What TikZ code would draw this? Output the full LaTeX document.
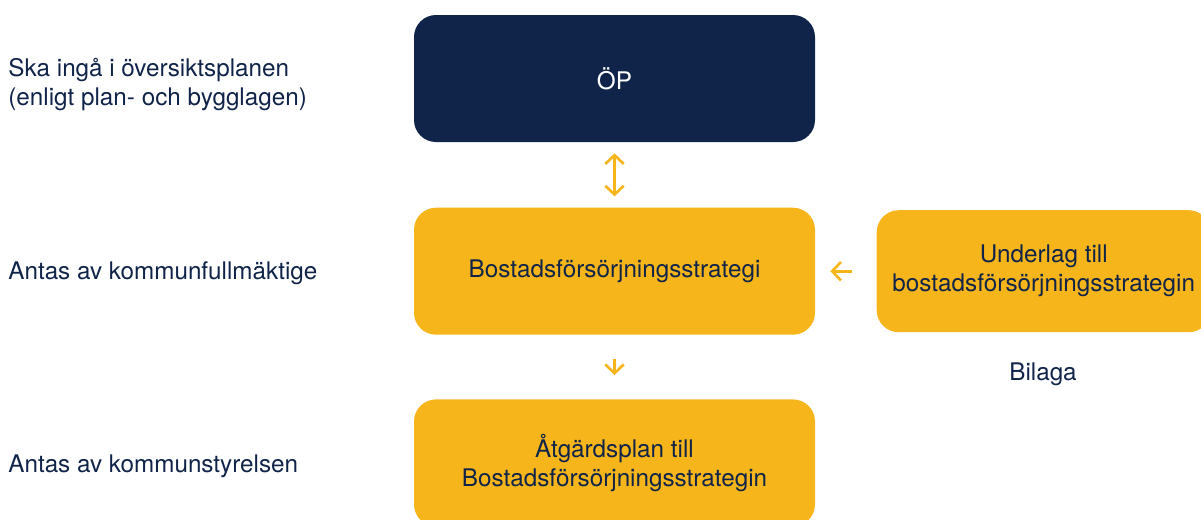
\documentclass[tikz,border=0pt]{standalone}
\usepackage{fontspec}
\setmainfont{TeX Gyre Heros}
\usepackage{xcolor}
\usetikzlibrary{arrows.meta, positioning}
\definecolor{marin}{HTML}{10244A}
\definecolor{gul}{HTML}{F6B51A}
\tikzstyle{morkruta} = [rectangle, rounded corners=0.44cm, 
minimum width=8.02cm, 
minimum height=2.54cm, 
text centered, 
fill=marin, text=white]
\tikzstyle{gulruta} = [rectangle, rounded corners=0.44cm, 
minimum width=8.02cm, 
minimum height=2.54cm, 
text centered, align=center, 
fill=gul, text=marin]
\tikzstyle{etikett} = [anchor=west, inner sep=0pt, align=left, text=marin]
\tikzstyle{pil} = [draw=gul, line width=1.5pt, >={Straight Barb[length=5pt,width=10.5pt]}]

\begin{document}
\begin{tikzpicture}[node distance=1.3cm, auto, font=\fontsize{13.8pt}{16.6pt}\selectfont]
        \useasboundingbox (0,0) rectangle (24.02,-10.38);

        % --- Rutor ---
        \node (op) [morkruta] at (12.29,-1.57) {ÖP};
        \node (strategi) [gulruta, below=of op] {Bostadsförsörjningsstrategi};
        \node (atgard) [gulruta, below=1.28cm of strategi] {Åtgärdsplan till\\Bostadsförsörjningsstrategin};
        \node (underlag) [gulruta, right=1.22cm of strategi, minimum width=6.68cm, minimum height=2.44cm] {Underlag till\\bostadsförsörjningsstrategin};
        \node (bilaga) [text=marin] at (20.86,-7.48) {Bilaga};

        % --- Etiketter till vänster ---
        \node (lbl_op) [etikett] at (0.16,-1.69) {Ska ingå i översiktsplanen\\(enligt plan- och bygglagen)};
        \node (lbl_strategi) [etikett] at (0.16,-5.46) {Antas av kommunfullmäktige};
        \node (lbl_atgard) [etikett] at (0.16,-9.32) {Antas av kommunstyrelsen};

        % --- Pilar ---
        \draw [pil, <->, shorten <=0.22cm, shorten >=0.22cm] (op) -- (strategi);
        \draw [pil, ->, shorten <=0.48cm, shorten >=0.48cm] (strategi) -- (atgard);
        \draw [pil, ->, shorten <=0.48cm, shorten >=0.3cm] (underlag) -- (strategi);

    \end{tikzpicture}
\end{document}
